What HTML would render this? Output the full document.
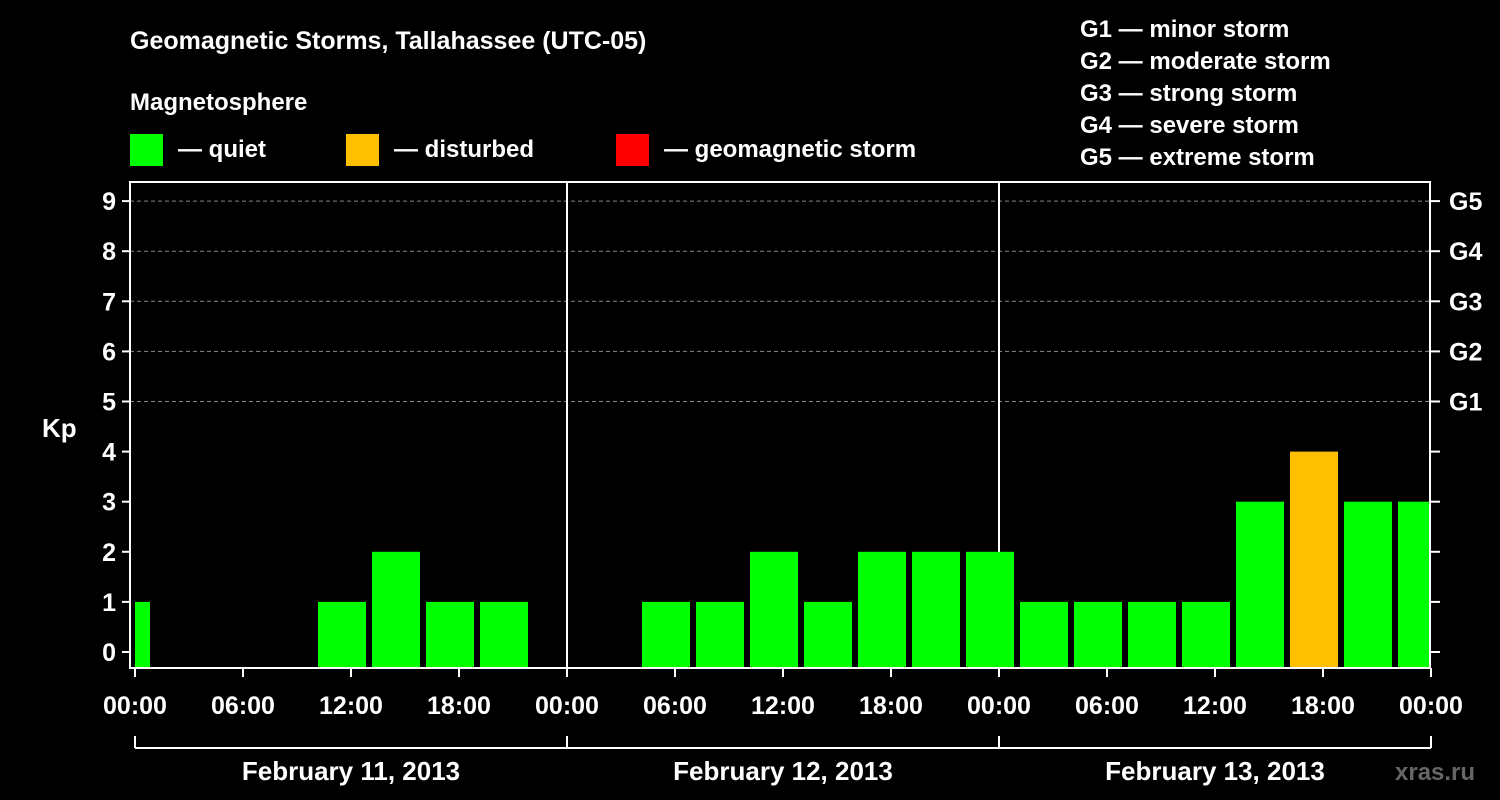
<!DOCTYPE html>
<html><head><meta charset="utf-8"><style>
html,body{margin:0;padding:0;background:#000;width:1500px;height:800px;overflow:hidden}
svg{display:block}
text{font-family:"Liberation Sans",Arial,sans-serif;font-weight:bold;fill:#fff}
</style></head><body>
<svg id="chart" width="1500" height="800" viewBox="0 0 1500 800">
<text x="130" y="49" font-size="25">Geomagnetic Storms, Tallahassee (UTC-05)</text>
<text x="130" y="110" font-size="24">Magnetosphere</text>
<g><rect x="130" y="134" width="33" height="32" fill="#00ff00"/><text x="178" y="157" font-size="24">— quiet</text></g>
<g><rect x="346" y="134" width="33" height="32" fill="#ffc000"/><text x="394" y="157" font-size="24">— disturbed</text></g>
<g><rect x="616" y="134" width="33" height="32" fill="#ff0000"/><text x="664" y="157" font-size="24">— geomagnetic storm</text></g>
<g font-size="24">
<text x="1080" y="37">G1 — minor storm</text>
<text x="1080" y="69">G2 — moderate storm</text>
<text x="1080" y="101">G3 — strong storm</text>
<text x="1080" y="133">G4 — severe storm</text>
<text x="1080" y="165">G5 — extreme storm</text>
</g>
<g id="grid"></g>
<g id="bars"></g>
<rect x="130" y="182" width="1300" height="486" fill="none" stroke="#fff" stroke-width="2"/>
<g id="axes"></g>
<text x="42" y="437" font-size="26">Kp</text>
<text x="1395" y="780" font-size="24" fill="#666" style="fill:#666">xras.ru</text>
</svg>
<script>
const kpValues = [1,0,0,0,1,2,1,1,0, 0,1,1,2,1,2,2,2, 1,1,1,1,3,4,3,3];
const intervalStartHours = [-2,1,4,7,10,13,16,19,22, 25,28,31,34,37,40,43,46, 49,52,55,58,61,64,67,70];
const yTicks = [0,1,2,3,4,5,6,7,8,9];
const gLabels = ["G1","G2","G3","G4","G5"];
const xTickLabels = ["00:00","06:00","12:00","18:00","00:00","06:00","12:00","18:00","00:00","06:00","12:00","18:00","00:00"];
const dayLabels = ["February 11, 2013","February 12, 2013","February 13, 2013"];
const NS="http://www.w3.org/2000/svg";
const x0=135, pxPerHour=18, plotL=130, plotR=1430, plotB=668, plotT=182;
const xH=h=>x0+h*pxPerHour;
const yK=k=>652-k*50.1;
function mk(tag,attrs,parent){const e=document.createElementNS(NS,tag);for(const k in attrs)e.setAttribute(k,attrs[k]);parent.appendChild(e);return e;}
const grid=document.getElementById('grid'),bars=document.getElementById('bars'),axes=document.getElementById('axes');
for(let k=5;k<=9;k++){
  const l=mk('line',{x1:plotL,x2:plotR,y1:yK(k),y2:yK(k),stroke:'#888','stroke-dasharray':'4,3','stroke-width':1},grid);
  
  
}
for(let d=1;d<3;d++){
  const l=mk('line',{x1:xH(24*d),x2:xH(24*d),y1:plotT,y2:plotB,stroke:'#fff','stroke-width':2},grid);
  
  
}
kpValues.forEach((v,i)=>{
  if(v<=0)return;
  let a=Math.max(xH(intervalStartHours[i]),x0-3)+3, b=Math.min(xH(intervalStartHours[i]+3),xH(72)+3)-3;
  const col=v>=5?'#ff0000':(v>=4?'#ffc000':'#00ff00');
  const r=mk('rect',{x:a,y:yK(v),width:b-a,height:plotB-yK(v),fill:col},bars);
  
  
});
yTicks.forEach(k=>{
  mk('line',{x1:122,x2:130,y1:yK(k),y2:yK(k),stroke:'#fff','stroke-width':2},axes);
  mk('line',{x1:1430,x2:1440,y1:yK(k),y2:yK(k),stroke:'#fff','stroke-width':2},axes);
  const t=mk('text',{x:116,y:yK(k)+9,'text-anchor':'end','font-size':25},axes);t.textContent=k;
  
  
});
gLabels.forEach((g,i)=>{
  const t=mk('text',{x:1449,y:yK(5+i)+9,'font-size':25},axes);t.textContent=g;
  
  
});
xTickLabels.forEach((s,i)=>{
  const x=xH(i*6);
  mk('line',{x1:x,x2:x,y1:668,y2:677,stroke:'#fff','stroke-width':2},axes);
  const t=mk('text',{x:x,y:714,'text-anchor':'middle','font-size':25},axes);t.textContent=s;
  
  
});
mk('line',{x1:xH(0),x2:xH(72),y1:748,y2:748,stroke:'#fff','stroke-width':2},axes);
for(let d=0;d<=3;d++) mk('line',{x1:xH(24*d),x2:xH(24*d),y1:736,y2:748,stroke:'#fff','stroke-width':2},axes);
dayLabels.forEach((s,i)=>{
  const t=mk('text',{x:xH(24*i+12),y:780,'text-anchor':'middle','font-size':26},axes);t.textContent=s;
  
  
});
</script>
</body></html>
